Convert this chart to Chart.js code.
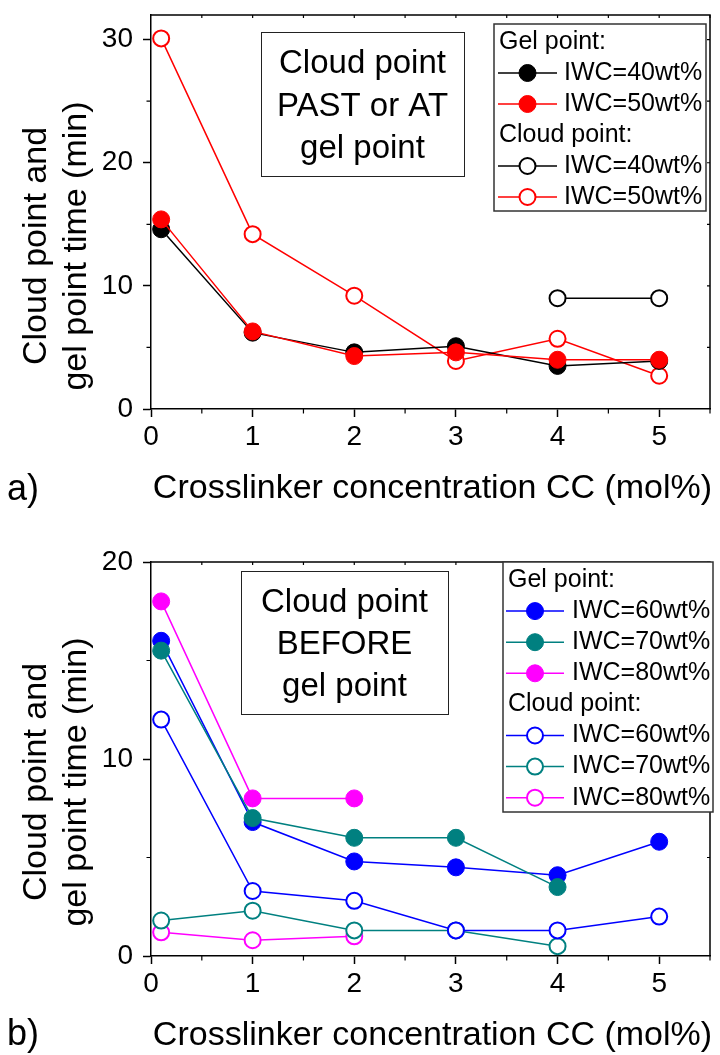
<!DOCTYPE html>
<html>
<head>
<meta charset="utf-8">
<title>Cloud point and gel point time</title>
<script src="https://cdn.jsdelivr.net/npm/chart.js@4.4.1/dist/chart.umd.min.js"></script>
<style>
  html, body { margin: 0; padding: 0; background: #fff; }
  canvas { position: absolute; left: 0; }
  #chartA { top: 0; }
  #chartB { top: 530px; }
</style>
</head>
<body>
<canvas id="chartA" width="720" height="530"></canvas>
<canvas id="chartB" width="720" height="525"></canvas>
<script>
// crosslinker concentration CC (mol%) of the samples
const ccAll = [0.1, 1, 2, 3, 4, 5];
const ccTo4 = [0.1, 1, 2, 3, 4];
const ccTo2 = [0.1, 1, 2];
const ccHigh = [4, 5];

// a) IWC 40 / 50 wt%, times in min
const gel40 = [14.6, 6.2, 4.6, 5.1, 3.5, 3.9];
const gel50 = [15.4, 6.3, 4.3, 4.6, 4.0, 4.0];
const cloud40 = [9.0, 9.0];
const cloud50 = [30.1, 14.2, 9.2, 3.9, 5.7, 2.7];

// b) IWC 60 / 70 / 80 wt%
const gel60 = [16.0, 6.8, 4.8, 4.5, 4.1, 5.8];
const gel70 = [15.5, 7.0, 6.0, 6.0, 3.5];
const gel80 = [18.0, 8.0, 8.0];
const cloud60 = [12.0, 3.3, 2.8, 1.3, 1.3, 2.0];
const cloud70 = [1.8, 2.3, 1.3, 1.3, 0.5];
const cloud80 = [1.2, 0.8, 1.0];

// tick labels
const xTicks = [0, 1, 2, 3, 4, 5];
const yTicksA = [0, 10, 20, 30];
const yTicksB = [0, 10, 20];

const FONT = '"Liberation Sans", Arial, Helvetica, sans-serif';
Chart.defaults.font.family = FONT;
Chart.defaults.color = '#000';

function pts(xs, ys) {
    return xs.map((x, i) => ({ x: x, y: ys[i] }));
}

function gelSet(label, color, xs, ys, order) {
    return {
        label: label, data: pts(xs, ys), order: order,
        borderColor: color, backgroundColor: color, borderWidth: 1.5,
        pointStyle: 'circle', pointRadius: 8.5, pointBorderWidth: 1,
        pointBackgroundColor: color, pointBorderColor: color
    };
}

function cloudSet(label, color, xs, ys, order) {
    return {
        label: label, data: pts(xs, ys), order: order,
        borderColor: color, backgroundColor: color, borderWidth: 1.5,
        pointStyle: 'circle', pointRadius: 8, pointBorderWidth: 2,
        pointBackgroundColor: '#fff', pointBorderColor: color
    };
}

function drawNote(ctx, n) {
    const [bx, by, bw, bh] = n.box;
    ctx.fillStyle = '#fff';
    ctx.fillRect(bx, by, bw, bh);
    ctx.strokeStyle = '#222';
    ctx.lineWidth = 1;
    ctx.strokeRect(bx + 0.5, by + 0.5, bw, bh);
    ctx.font = n.size + 'px ' + FONT;
    ctx.fillStyle = '#000';
    ctx.textAlign = 'center';
    ctx.textBaseline = 'alphabetic';
    const cx = bx + bw / 2, cy = by + bh / 2;
    n.lines.forEach((t, i) => {
        const mid = cy + (i - (n.lines.length - 1) / 2) * n.lead;
        ctx.fillText(t, cx, mid + 0.358 * n.size);
    });
}

function drawLegend(ctx, chart, lg) {
    const [bx, by, bw, bh] = lg.box;
    ctx.fillStyle = '#fff';
    ctx.fillRect(bx, by, bw, bh);
    ctx.strokeStyle = '#333';
    ctx.lineWidth = 1.5;
    ctx.strokeRect(bx, by, bw, bh);
    ctx.font = lg.size + 'px ' + FONT;
    ctx.textAlign = 'left';
    ctx.textBaseline = 'middle';
    lg.rows.forEach((row, i) => {
        const y = lg.top + i * lg.step;
        if (typeof row === 'string') {
            ctx.fillStyle = '#000';
            ctx.fillText(row, lg.headX, y);
            return;
        }
        const ds = chart.data.datasets[row];
        ctx.strokeStyle = ds.borderColor;
        ctx.lineWidth = ds.borderWidth;
        ctx.beginPath();
        ctx.moveTo(lg.line[0], y);
        ctx.lineTo(lg.line[1], y);
        ctx.stroke();
        const mx = (lg.line[0] + lg.line[1]) / 2;
        ctx.beginPath();
        ctx.arc(mx, y, ds.pointRadius, 0, Math.PI * 2);
        ctx.fillStyle = ds.pointBackgroundColor;
        ctx.fill();
        ctx.lineWidth = ds.pointBorderWidth;
        ctx.strokeStyle = ds.pointBorderColor;
        ctx.stroke();
        ctx.fillStyle = '#000';
        ctx.fillText(ds.label, lg.textX, y);
    });
}

// frame, minor ticks, text box, legend and titles
const decor = {
    id: 'decor',
    afterDatasetsDraw(chart, args, o) {
        const ctx = chart.ctx, a = chart.chartArea;
        const sx = chart.scales.x, sy = chart.scales.y;
        ctx.save();

        ctx.strokeStyle = '#000';
        ctx.lineWidth = 1.5;
        ctx.beginPath();
        ctx.moveTo(a.left, a.top);
        ctx.lineTo(a.right, a.top);
        ctx.lineTo(a.right, a.bottom);
        ctx.stroke();

        ctx.lineWidth = 1.2;
        ctx.beginPath();
        for (let v = o.xMinor; v <= sx.max + 1e-9; v += o.xMinor) {
            const p = sx.getPixelForValue(v);
            if (Math.round(v / o.xMinor) % 2) {
                ctx.moveTo(p, a.bottom);
                ctx.lineTo(p, a.bottom + 4.5);
            }
            ctx.moveTo(p, a.top);
            ctx.lineTo(p, a.top + 3);
        }
        for (let v = o.yMinor; v <= sy.max + 1e-9; v += o.yMinor) {
            const p = sy.getPixelForValue(v);
            if (Math.round(v / o.yMinor) % 2) {
                ctx.moveTo(a.left, p);
                ctx.lineTo(a.left - 4.5, p);
            }
            ctx.moveTo(a.right, p);
            ctx.lineTo(a.right - 3, p);
        }
        ctx.stroke();

        drawNote(ctx, o.note);
        drawLegend(ctx, chart, o.legend);

        ctx.fillStyle = '#000';
        ctx.font = o.titleSize + 'px ' + FONT;
        ctx.textAlign = 'center';
        ctx.textBaseline = 'alphabetic';
        ctx.fillText(o.xTitle, (a.left + a.right) / 2 + 2, a.bottom + o.xTitleDy);

        o.yTitle.forEach((t, i) => {
            ctx.save();
            ctx.translate(o.yTitleX[i], o.yTitleCy);
            ctx.rotate(-Math.PI / 2);
            ctx.fillText(t, 0, 0);
            ctx.restore();
        });

        ctx.font = o.letterSize + 'px ' + FONT;
        ctx.textAlign = 'left';
        ctx.fillText(o.letter, 7, a.bottom + o.letterDy);

        ctx.restore();
    }
};

function makeChart(id, datasets, yMax, yTicks, xHeight, top, deco) {
    return new Chart(document.getElementById(id), {
        type: 'line',
        data: { datasets: datasets },
        plugins: [decor],
        options: {
            responsive: false,
            animation: false,
            devicePixelRatio: 1,
            clip: false,
            layout: { padding: { left: 0, top: top, right: 2, bottom: 0 } },
            scales: {
                x: {
                    type: 'linear', min: 0, max: 5.5,
                    afterFit(scale) {
                        scale.height = xHeight;
                        scale.paddingLeft = 0;
                        scale.paddingRight = 0;
                    },
                    afterBuildTicks(scale) { scale.ticks = xTicks.map(v => ({ value: v })); },
                    ticks: { font: { size: 28 }, padding: 3, maxRotation: 0 },
                    grid: { drawOnChartArea: false, drawTicks: true, tickLength: 8, tickWidth: 1.5, tickColor: '#000' },
                    border: { display: true, color: '#000', width: 1.5 }
                },
                y: {
                    type: 'linear', min: 0, max: yMax,
                    afterFit(scale) {
                        // plot box is placed by the layout padding alone
                        scale.width = 151;
                        scale.paddingTop = 0;
                        scale.paddingBottom = 0;
                    },
                    afterBuildTicks(scale) { scale.ticks = yTicks.map(v => ({ value: v })); },
                    ticks: { font: { size: 28 }, padding: 10 },
                    grid: { drawOnChartArea: false, drawTicks: true, tickLength: 8, tickWidth: 1.5, tickColor: '#000' },
                    border: { display: true, color: '#000', width: 1.5 }
                }
            },
            plugins: {
                legend: { display: false },
                tooltip: { enabled: false },
                decor: deco
            }
        }
    });
}

const yTitle = ['Cloud point and', 'gel point time (min)'];
const xTitle = 'Crosslinker concentration CC (mol%)';

makeChart('chartA', [
    gelSet('IWC=40wt%', '#000000', ccAll, gel40, 1),
    gelSet('IWC=50wt%', '#ff0000', ccAll, gel50, 0),
    cloudSet('IWC=40wt%', '#000000', ccHigh, cloud40, 2),
    cloudSet('IWC=50wt%', '#ff0000', ccAll, cloud50, 3)
], 32, yTicksA, 121, 15, {
    xMinor: 0.5, yMinor: 5,
    note: { box: [261, 32, 203, 144], lines: ['Cloud point', 'PAST or AT', 'gel point'], size: 33, lead: 42.5 },
    legend: {
        box: [494, 24, 212, 187], top: 42, step: 31, headX: 499, line: [498, 557], textX: 564, size: 25,
        rows: ['Gel point:', 0, 1, 'Cloud point:', 2, 3]
    },
    titleSize: 34, xTitle: xTitle, xTitleDy: 89,
    yTitle: yTitle, yTitleX: [46, 86], yTitleCy: 246,
    letter: 'a)', letterSize: 36, letterDy: 91
});

makeChart('chartB', [
    gelSet('IWC=60wt%', '#0000ff', ccAll, gel60, 2),
    gelSet('IWC=70wt%', '#008080', ccTo4, gel70, 1),
    gelSet('IWC=80wt%', '#ff00ff', ccTo2, gel80, 0),
    cloudSet('IWC=60wt%', '#0000ff', ccAll, cloud60, 3),
    cloudSet('IWC=70wt%', '#008080', ccTo4, cloud70, 4),
    cloudSet('IWC=80wt%', '#ff00ff', ccTo2, cloud80, 5)
], 20, yTicksB, 99, 32, {
    xMinor: 0.5, yMinor: 5,
    note: { box: [241, 41, 207, 143], lines: ['Cloud point', 'BEFORE', 'gel point'], size: 33, lead: 42 },
    legend: {
        box: [503, 32, 210, 250], top: 50, step: 31.1, headX: 508, line: [506, 564], textX: 572, size: 25,
        rows: ['Gel point:', 0, 1, 2, 'Cloud point:', 3, 4, 5]
    },
    titleSize: 34, xTitle: xTitle, xTitleDy: 89,
    yTitle: yTitle, yTitleX: [46, 86], yTitleCy: 252,
    letter: 'b)', letterSize: 36, letterDy: 89
});
</script>
</body>
</html>
